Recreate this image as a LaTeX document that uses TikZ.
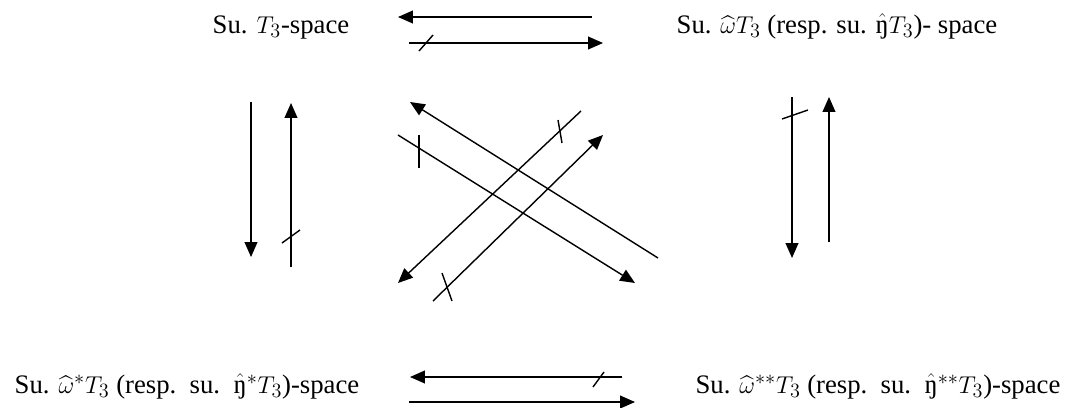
\documentclass[tikz,border=0pt]{standalone}
\usepackage{amsmath}
\usepackage{fontspec}
\setmainfont{Liberation Serif}
\usetikzlibrary{arrows.meta}

\newcommand{\hng}{\ensuremath{\hat{\text{ŋ}}}}

\begin{document}
\begin{tikzpicture}[x=0.025cm, y=-0.025cm,
    >={Triangle[length=10.5pt, width=9pt]},
    lbl/.style={anchor=base, inner sep=0pt, font=\fontsize{19}{22}\selectfont},
    imp/.style={->, line width=1pt},
    cut/.style={line width=1pt}]

  \useasboundingbox (0,0) rectangle (1067,408);

  \node[lbl] (ts)  at (281, 33)  {Su. $T_3$-space};
  \node[lbl] (wts) at (837, 33)  {Su. $\widehat{\omega}T_3$ (resp. su. \hng$T_3$)- space};
  \node[lbl] (s1)  at (187, 393) {Su. $\widehat{\omega}^{*}T_3$ (resp.\ \ su.\ \ \hng$^{*}T_3$)-space};
  \node[lbl] (s2)  at (878, 393) {Su. $\widehat{\omega}^{**}T_3$ (resp.\ \ su.\ \ \hng$^{**}T_3$)-space};

  % top pair
  \coordinate (t1a) at (592, 17);  \coordinate (t1b) at (398, 17);
  \coordinate (t2a) at (409, 43);  \coordinate (t2b) at (603, 43);
  % left pair
  \coordinate (l1a) at (251,102);  \coordinate (l1b) at (251,257);
  \coordinate (l2a) at (291,267);  \coordinate (l2b) at (291,103);
  % right pair
  \coordinate (r1a) at (792, 97);  \coordinate (r1b) at (792,258);
  \coordinate (r2a) at (829,242);  \coordinate (r2b) at (829, 97);
  % diagonals
  \coordinate (d1a) at (658,258);  \coordinate (d1b) at (410,102);
  \coordinate (d2a) at (398,135);  \coordinate (d2b) at (635,283);
  \coordinate (d3a) at (581,111);  \coordinate (d3b) at (398,283);
  \coordinate (d4a) at (433,301);  \coordinate (d4b) at (603,135);
  % bottom pair
  \coordinate (b1a) at (622,377);  \coordinate (b1b) at (410,377);
  \coordinate (b2a) at (409,402);  \coordinate (b2b) at (635,402);

  \draw[imp] (t1a) -- (t1b);
  \draw[imp] (t2a) -- (t2b);
  \draw[imp] (l1a) -- (l1b);
  \draw[imp] (l2a) -- (l2b);
  \draw[imp] (r1a) -- (r1b);
  \draw[imp] (r2a) -- (r2b);
  \draw[imp] (d1a) -- (d1b);
  \draw[imp] (d2a) -- (d2b);
  \draw[imp] (d3a) -- (d3b);
  \draw[imp] (d4a) -- (d4b);
  \draw[imp] (b1a) -- (b1b);
  \draw[imp] (b2a) -- (b2b);

  % negation strokes
  \draw[cut] (419, 51) -- (433, 35);
  \draw[cut] (282,243) -- (300,230);
  \draw[cut] (782,119) -- (808,110);
  \draw[cut] (419,135) -- (419,168);
  \draw[cut] (558,120) -- (562,143);
  \draw[cut] (442,273) -- (452,301);
  \draw[cut] (593,387) -- (604,372);
\end{tikzpicture}
\end{document}
